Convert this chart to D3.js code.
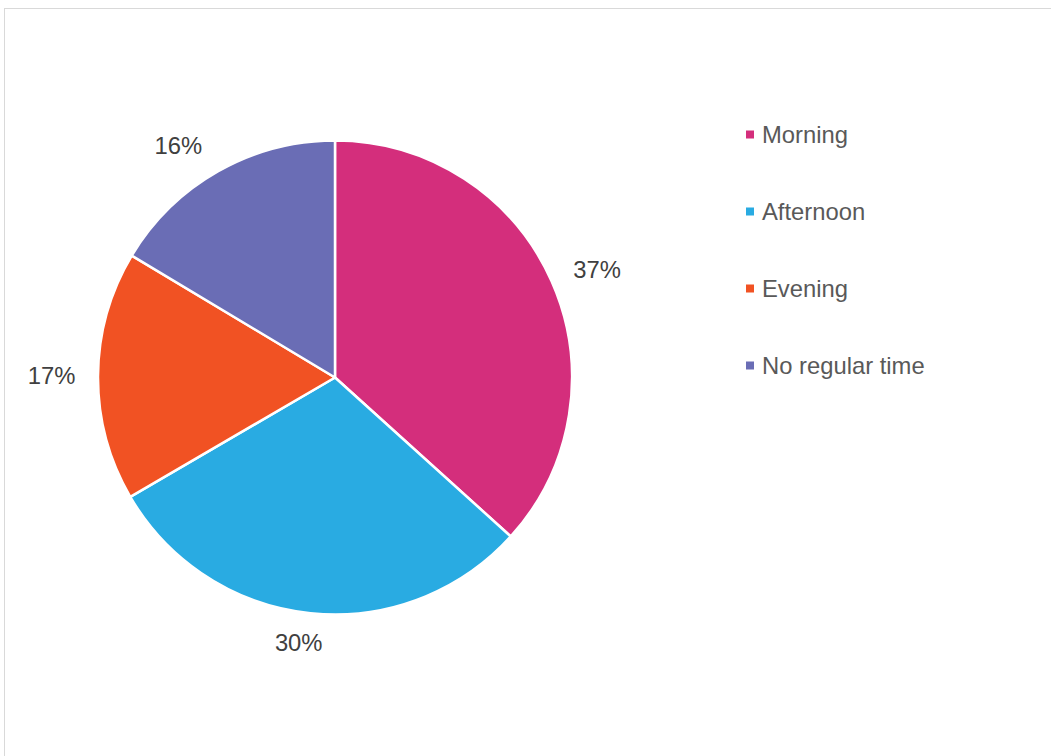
<!DOCTYPE html>
<html>
<head>
<meta charset="utf-8">
<script src="https://cdn.jsdelivr.net/npm/d3@7"></script>
<style>
  body { margin: 0; background: #fff; }
  svg { display: block; font-family: "Liberation Sans", Arial, sans-serif; }
</style>
</head>
<body>
<div id="chart"></div>
<script>
var categories = ["Morning", "Afternoon", "Evening", "No regular time"];
var values = [36.7, 29.9, 17.0, 16.4];
var colors = ["#D42E7C", "#29ABE2", "#F15223", "#6A6DB5"];

var width = 1051, height = 756;
var cx = 335, cy = 377.5, radius = 237;
var fontSize = 23.8;

var svg = d3.select("#chart").append("svg")
  .attr("width", width)
  .attr("height", height);

// chart area frame (runs off the right and bottom edges)
svg.append("rect")
  .attr("x", 4.5).attr("y", 8.5)
  .attr("width", 1100).attr("height", 800)
  .attr("fill", "#fff")
  .attr("stroke", "#d9d9d9")
  .attr("stroke-width", 1);

var data = categories.map(function(c, i) { return {name: c, value: values[i], color: colors[i]}; });

var pie = d3.pie().sort(null).value(function(d) { return d.value; });
var arc = d3.arc().innerRadius(0).outerRadius(radius);
var arcs = pie(data);

var g = svg.append("g").attr("transform", "translate(" + cx + "," + cy + ")");

g.selectAll("path.slice")
  .data(arcs)
  .enter()
  .append("path")
  .attr("class", "slice")
  .attr("d", arc)
  .attr("fill", function(d) { return d.data.color; })
  .attr("stroke", "#fff")
  .attr("stroke-width", 2.5)
  .attr("stroke-linejoin", "round");

// percent labels, "outside end" style
var total = d3.sum(values);
function labelPos(d) {
  var a = (d.startAngle + d.endAngle) / 2;
  var s = Math.sin(a), c = Math.cos(a);
  var dx = s * 12.8 + Math.sign(s) * 33.7 * Math.min(1, Math.abs(s) * 3);
  var dy = -c * 30;
  return [s * radius + dx, -c * radius + dy];
}
g.selectAll("text.pct")
  .data(arcs)
  .enter()
  .append("text")
  .attr("class", "pct")
  .attr("x", function(d) { return labelPos(d)[0]; })
  .attr("y", function(d) { return labelPos(d)[1]; })
  .attr("dy", "0.35em")
  .attr("text-anchor", "middle")
  .style("font-size", fontSize + "px")
  .style("fill", "#404040")
  .text(function(d) { return Math.round(d.data.value / total * 100) + "%"; });

// legend
var legendY = d3.scalePoint().domain(categories).range([134.5, 365.5]);
var legend = svg.selectAll("g.legend")
  .data(data)
  .enter()
  .append("g")
  .attr("class", "legend")
  .attr("transform", function(d) { return "translate(746," + legendY(d.name) + ")"; });

legend.append("rect")
  .attr("x", 0).attr("y", -4)
  .attr("width", 8).attr("height", 8)
  .attr("fill", function(d) { return d.color; });

legend.append("text")
  .attr("x", 16)
  .attr("dy", "0.35em")
  .style("font-size", fontSize + "px")
  .style("fill", "#595959")
  .text(function(d) { return d.name; });
</script>
</body>
</html>
